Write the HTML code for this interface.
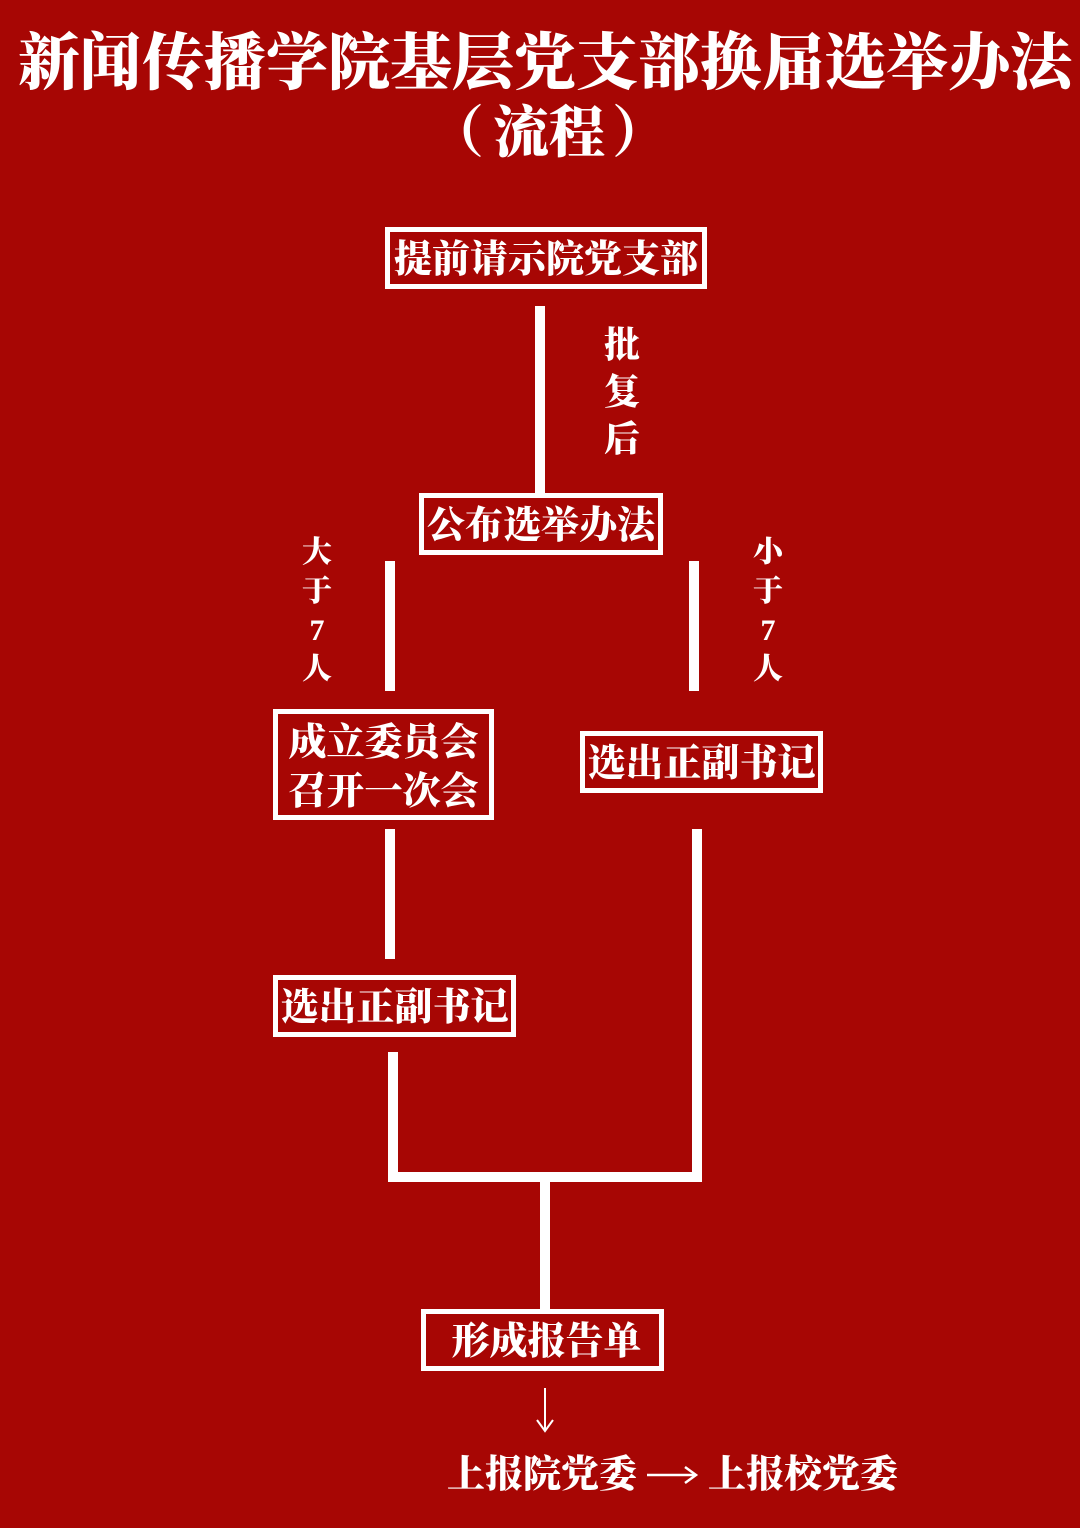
<!DOCTYPE html>
<html><head><meta charset="utf-8"><style>
body{margin:0;}
#c{position:relative;width:1080px;height:1528px;background:#a70604;overflow:hidden;font-family:"Liberation Serif","Noto Serif CJK SC",serif;font-weight:900;color:#fff;}
.t{position:absolute;white-space:nowrap;line-height:1;}
.b{position:absolute;border:5px solid #fff;box-sizing:border-box;display:flex;align-items:center;justify-content:center;font-size:38px;line-height:1.25;text-align:center;white-space:nowrap;padding-top:6px;}
.l{position:absolute;background:#fff;}
.v{position:absolute;font-size:30px;line-height:39px;text-align:center;width:40px;}
</style></head><body><div id="c">
<div class="t" style="left:0;width:1090px;text-align:center;top:33px;font-size:62px;">新闻传播学院基层党支部换届选举办法</div>
<div class="t" style="left:428px;top:106px;font-size:56px;">（</div>
<div class="t" style="left:493px;top:106px;font-size:56px;">流程</div>
<div class="t" style="left:612px;top:106px;font-size:56px;">）</div>

<div class="b" style="left:385px;top:227px;width:322px;height:62px;">提前请示院党支部</div>
<div class="l" style="left:535px;top:306px;width:10px;height:188px;"></div>
<div class="v" style="left:602px;top:322px;font-size:36px;line-height:47px;">批<br>复<br>后</div>
<div class="b" style="left:419px;top:493px;width:244px;height:62px;">公布选举办法</div>

<div class="v" style="left:297px;top:533px;">大<br>于<br>7<br>人</div>
<div class="v" style="left:748px;top:533px;">小<br>于<br>7<br>人</div>
<div class="l" style="left:385px;top:561px;width:10px;height:130px;"></div>
<div class="l" style="left:689px;top:561px;width:10px;height:130px;"></div>

<div class="b" style="left:273px;top:709px;width:221px;height:111px;line-height:49px;">成立委员会<br>召开一次会</div>
<div class="b" style="left:580px;top:731px;width:243px;height:62px;">选出正副书记</div>

<div class="l" style="left:385px;top:829px;width:10px;height:130px;"></div>
<div class="l" style="left:692px;top:829px;width:10px;height:353px;"></div>

<div class="b" style="left:273px;top:975px;width:243px;height:62px;">选出正副书记</div>
<div class="l" style="left:388px;top:1052px;width:10px;height:130px;"></div>
<div class="l" style="left:388px;top:1172px;width:314px;height:10px;"></div>
<div class="l" style="left:540px;top:1182px;width:10px;height:128px;"></div>

<div class="b" style="left:421px;top:1309px;width:243px;height:62px;padding-left:8px;">形成报告单</div>
<svg style="position:absolute;left:530px;top:1386px;" width="30" height="48"><line x1="15" y1="2" x2="15" y2="44" stroke="#fff" stroke-width="2"/><polyline points="7,34 15,45 23,34" fill="none" stroke="#fff" stroke-width="2"/></svg>
<div class="t" style="left:447px;top:1456px;font-size:38px;">上报院党委</div>
<svg style="position:absolute;left:645px;top:1460px;" width="54" height="30"><line x1="2" y1="15" x2="50" y2="15" stroke="#fff" stroke-width="2.5"/><polyline points="40,7 51,15 40,23" fill="none" stroke="#fff" stroke-width="2.5"/></svg>
<div class="t" style="left:708px;top:1456px;font-size:38px;">上报校党委</div>
</div></body></html>
